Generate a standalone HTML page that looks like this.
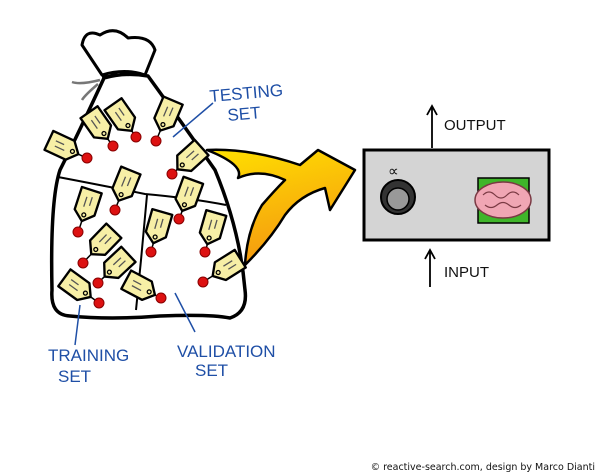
<!DOCTYPE html>
<html><head><meta charset="utf-8"><style>
html,body{margin:0;padding:0;background:#fff;width:600px;height:473px;overflow:hidden}
svg{display:block}
.lbl{font-family:"Liberation Sans",sans-serif;fill:#1f4fa6;font-size:17px}
.blk{font-family:"Liberation Sans",sans-serif;fill:#111;font-size:15px}
</style></head><body>
<svg width="600" height="473" viewBox="0 0 600 473" xmlns="http://www.w3.org/2000/svg">
<defs>
<linearGradient id="g" x1="0" y1="0" x2="0.3" y2="1">
<stop offset="0" stop-color="#ffe000"/><stop offset="1" stop-color="#f59a10"/>
</linearGradient>
<g id="tag"><path d="M0,26 L0,16" stroke="#000" stroke-width="1.5"/><g transform="scale(1.3)"><path d="M-8,-12 L8,-12 L8,6 L0,13 L-8,6 Z" fill="#f7efa6" stroke="#000" stroke-width="1.8" stroke-linejoin="round"/><circle cx="0" cy="8" r="1.5" fill="none" stroke="#000"/><path d="M-2,-6 L-2,2 M2,-7 L2,0" stroke="#555" stroke-width="1"/></g></g>
</defs>
<!-- bag -->
<path d="M82,45 Q85,28 100,35 Q115,25 128,38 Q150,35 155,50 L145,75 Q125,68 102,75 Z" fill="#fff" stroke="#000" stroke-width="3" stroke-linejoin="round"/>
<path d="M102,77 Q125,70 148,77" fill="none" stroke="#000" stroke-width="3" stroke-dasharray="6,3"/>
<path d="M100,80 Q80,85 72,82 M98,84 Q85,95 82,100" stroke="#777" stroke-width="2.5" fill="none"/>
<path d="M104,78 Q80,130 60,170 Q50,200 52,290 Q50,315 70,316 Q110,320 160,316 Q210,314 230,318 Q248,312 245,290 Q240,230 215,170 Q180,120 148,76 Q125,72 104,78 Z" fill="#fff" stroke="#000" stroke-width="3.5" stroke-linejoin="round"/>
<path d="M58,177 Q100,185 145,194 Q190,198 226,205" fill="none" stroke="#000" stroke-width="2"/>
<path d="M147,195 L141,260 L136,310" fill="none" stroke="#000" stroke-width="2"/>
<!-- tags -->
<g>
<use href="#tag" transform="translate(63,147) rotate(-65)"/><circle cx="87" cy="158" r="5" fill="#d11" stroke="#800"/>
<use href="#tag" transform="translate(98,125) rotate(-35)"/><circle cx="113" cy="146" r="5" fill="#d11" stroke="#800"/>
<use href="#tag" transform="translate(122,117) rotate(-35)"/><circle cx="136" cy="137" r="5" fill="#d11" stroke="#800"/>
<use href="#tag" transform="translate(167,115) rotate(23)"/><circle cx="156" cy="141" r="5" fill="#d11" stroke="#800"/>
<use href="#tag" transform="translate(190,158) rotate(48)"/><circle cx="172" cy="174" r="5" fill="#d11" stroke="#800"/>
<use href="#tag" transform="translate(125,185) rotate(22)"/><circle cx="115" cy="210" r="5" fill="#d11" stroke="#800"/>
<use href="#tag" transform="translate(87,205) rotate(18)"/><circle cx="78" cy="232" r="5" fill="#d11" stroke="#800"/>
<use href="#tag" transform="translate(188,195) rotate(20)"/><circle cx="179" cy="219" r="5" fill="#d11" stroke="#800"/>
<use href="#tag" transform="translate(158,227) rotate(16)"/><circle cx="151" cy="252" r="5" fill="#d11" stroke="#800"/>
<use href="#tag" transform="translate(212,228) rotate(16)"/><circle cx="205" cy="252" r="5" fill="#d11" stroke="#800"/>
<use href="#tag" transform="translate(103,242) rotate(44)"/><circle cx="83" cy="263" r="5" fill="#d11" stroke="#800"/>
<use href="#tag" transform="translate(117,265) rotate(47)"/><circle cx="98" cy="283" r="5" fill="#d11" stroke="#800"/>
<use href="#tag" transform="translate(227,267) rotate(58)"/><circle cx="203" cy="282" r="5" fill="#d11" stroke="#800"/>
<use href="#tag" transform="translate(77,287) rotate(-54)"/><circle cx="99" cy="303" r="5" fill="#d11" stroke="#800"/>
<use href="#tag" transform="translate(140,287) rotate(-62)"/><circle cx="161" cy="298" r="5" fill="#d11" stroke="#800"/>
</g>
<!-- label lines -->
<path d="M213,103 L173,137" stroke="#1f4fa6" stroke-width="1.5"/>
<path d="M80,305 L75,345" stroke="#1f4fa6" stroke-width="1.5"/>
<path d="M175,293 L195,332" stroke="#1f4fa6" stroke-width="1.5"/>
<text class="lbl" x="210" y="102" transform="rotate(-5 210 102)">TESTING</text>
<text class="lbl" x="228" y="121" transform="rotate(-5 228 121)">SET</text>
<text class="lbl" x="48" y="361">TRAINING</text>
<text class="lbl" x="58" y="382">SET</text>
<text class="lbl" x="177" y="357">VALIDATION</text>
<text class="lbl" x="195" y="376">SET</text>
<!-- yellow arrow -->
<path d="M207,150 Q250,148 300,165 L318,150 L355,170 L330,210 L325,188 Q300,195 285,215 Q270,240 245,265 Q247,230 262,205 Q275,190 285,180 Q260,168 238,178 Q245,165 207,150 Z" fill="url(#g)" stroke="#000" stroke-width="2.5" stroke-linejoin="round"/>
<!-- box -->
<rect x="364" y="150" width="185" height="90" fill="#d4d4d4" stroke="#000" stroke-width="3"/>
<path d="M432,148 L432,108 M427,115 L432,106 L437,115" stroke="#000" stroke-width="1.8" fill="none"/>
<text class="blk" x="444" y="130">OUTPUT</text>
<path d="M430,287 L430,252 M425,259 L430,250 L435,259" stroke="#000" stroke-width="1.8" fill="none"/>
<text class="blk" x="444" y="277">INPUT</text>
<text class="blk" x="388" y="176" font-size="16">∝</text>
<circle cx="398" cy="197" r="17" fill="#333" stroke="#000" stroke-width="2"/>
<circle cx="398" cy="199" r="11" fill="#999" stroke="#000" stroke-width="1.5"/>
<rect x="478" y="178" width="51" height="45" fill="#3fb52a" stroke="#000" stroke-width="1.5"/>
<ellipse cx="503" cy="200" rx="28" ry="18" fill="#f0a6b4" stroke="#7a3a44" stroke-width="1.5"/>
<path d="M483,195 q6,-6 12,0 q6,6 12,0 q6,-6 12,0 M485,205 q6,5 12,0 q6,-5 12,0 q6,5 12,0" stroke="#7a3a44" fill="none" stroke-width="1.2"/>
<text x="595" y="470" text-anchor="end" font-family="'DejaVu Sans',sans-serif" font-size="9.5" fill="#111">© reactive-search.com, design by Marco Dianti</text>
</svg>
</body></html>
